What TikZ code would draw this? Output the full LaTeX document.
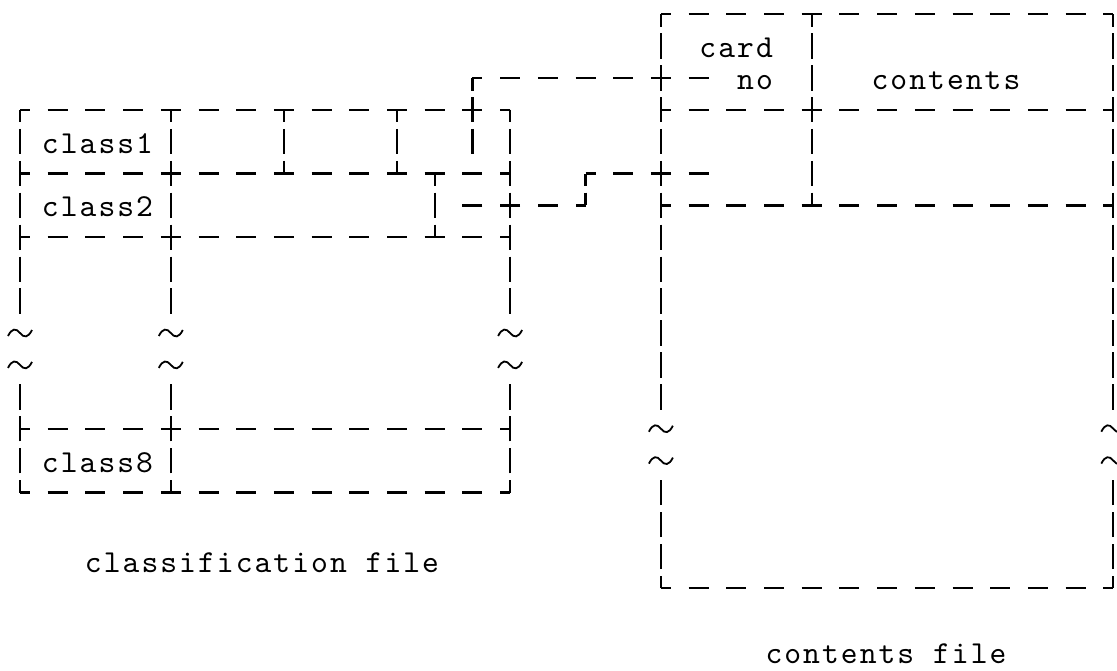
\documentclass[tikz,border=0pt]{standalone}
\usepackage{fontspec}
\newfontfamily\prnfont[LetterSpace=6.4]{lmmono10-regular.otf}
% printer grid: columns and lines
\newcommand\colx[1]{20+18.85*(#1)}
\newcommand\rowy[1]{14+31.9*(#1)}
\tikzset{
  hl/.style={line width=2.2pt, dash pattern=on 20pt off 17.7pt, dash phase=10pt},
  vl/.style={line width=2.2pt, dash pattern=on 25.4pt off 6.5pt, dash phase=12.7pt},
  txt/.style={font=\prnfont\fontsize{32}{32}\selectfont, inner sep=0pt, anchor=base},
  squig/.pic={\draw[line width=1.8pt] (-12,3) .. controls (-8,-5) and (-4,-5) .. (0,0) .. controls (4,5) and (8,5) .. (12,-3);}
}
\begin{document}
\begin{tikzpicture}[x=1pt, y=-1pt]
  \useasboundingbox (0,0) rectangle (1117,670);
  \clip (0,0) rectangle (1117,670);

  % classification file
  \foreach \rw in {3,5,7,13,15}
    \draw[hl] ({\colx{0}},{\rowy{\rw}}) -- ({\colx{26}},{\rowy{\rw}});
  \foreach \cl in {0,8,26} {
    \draw[vl] ({\colx{\cl}},{\rowy{3}}) -- ({\colx{\cl}},{\rowy{9}+12.7});
    \draw[vl] ({\colx{\cl}},{\rowy{15}}) -- ({\colx{\cl}},{\rowy{12}-12.7});
    \pic at ({\colx{\cl}},{\rowy{10}}) {squig};
    \pic at ({\colx{\cl}},{\rowy{11}}) {squig};
  }
  \foreach \cl in {14,20}
    \draw[vl] ({\colx{\cl}},{\rowy{3}}) -- ({\colx{\cl}},{\rowy{5}});
  \draw[vl] ({\colx{22}},{\rowy{5}}) -- ({\colx{22}},{\rowy{7}});

  \node[txt] (cls1) at (97.5,{\rowy{4}+11.5}) {class1};
  \node[txt] (cls2) at (97.5,{\rowy{6}+11.5}) {class2};
  \node[txt] (cls8) at (97.5,{\rowy{14}+11.5}) {class8};
  \node[txt] (clsfile) at (262,572) {classification file};

  % contents file
  \foreach \rw in {0,3,6,18}
    \draw[hl] ({\colx{34}},{\rowy{\rw}}) -- ({\colx{58}},{\rowy{\rw}});
  \foreach \cl in {34,58} {
    \draw[vl] ({\colx{\cl}},{\rowy{0}}) -- ({\colx{\cl}},{\rowy{12}+12.7});
    \draw[vl] ({\colx{\cl}},{\rowy{18}}) -- ({\colx{\cl}},{\rowy{15}-12.7});
    \pic at ({\colx{\cl}},{\rowy{13}}) {squig};
    \pic at ({\colx{\cl}},{\rowy{14}}) {squig};
  }
  \draw[vl] ({\colx{42}},{\rowy{0}}) -- ({\colx{42}},{\rowy{6}});

  \node[txt, anchor=base east] (card) at (773,{\rowy{1}+11.5}) {card};
  \node[txt, anchor=base east] (cno) at (773,{\rowy{2}+11.5}) {no};
  \node[txt] (cont) at (946,{\rowy{2}+11.5}) {contents};
  \node[txt] (contfile) at (886,663) {contents file};

  % links between the files
  \coordinate (ka) at ({\colx{24}},{\rowy{4}+12.7});
  \coordinate (kb) at ({\colx{24}},{\rowy{2}});
  \coordinate (kc) at ({\colx{36}+10},{\rowy{2}});
  \draw[vl] (kb) -- (ka);
  \draw[hl] (kb) -- (kc);

  \coordinate (ma) at ({\colx{24}-10},{\rowy{6}});
  \coordinate (mb) at ({\colx{30}},{\rowy{6}});
  \coordinate (mc) at ({\colx{30}},{\rowy{5}});
  \coordinate (md) at ({\colx{36}+10},{\rowy{5}});
  \draw[hl] (mb) -- (ma);
  \draw[vl] (mc) -- (mb);
  \draw[hl] (mc) -- (md);
\end{tikzpicture}
\end{document}
